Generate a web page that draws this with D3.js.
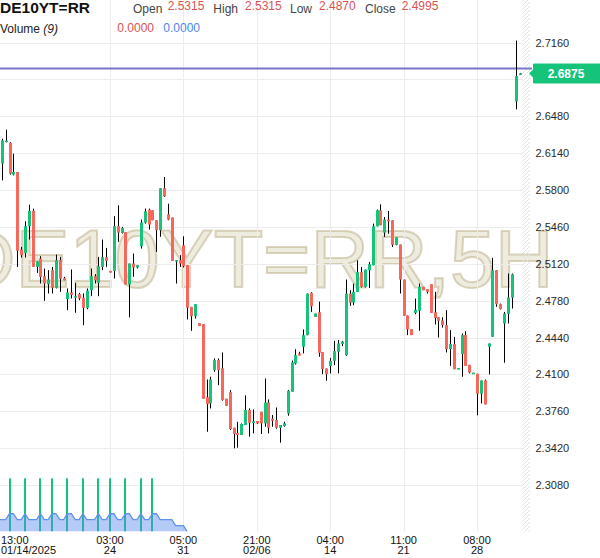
<!DOCTYPE html>
<html><head><meta charset="utf-8">
<script src="https://cdn.jsdelivr.net/npm/d3@7"></script>
<style>
body{margin:0;background:#fff;}
svg{display:block;font-family:Arial,"Liberation Sans",Helvetica,sans-serif;}
</style>
</head><body>
<svg id="chart" width="600" height="558"></svg>
<script>
const symbol = "DE10YT=RR";
const watermark = "DE10YT=RR,5H";
const headerLabels = ["Open", "High", "Low", "Close"];
const headerValues = ["2.5315", "2.5315", "2.4870", "2.4995"];
const volumeValues = ["0.0000", "0.0000"];

const opens = [2.6043,2.6246,2.6236,2.5942,2.5966,2.5251,2.5220,2.5466,2.5607,2.5091,
2.5168,2.5005,2.4932,2.5061,2.4898,2.5153,2.4987,2.4794,2.4855,2.4812,
2.4840,2.4806,2.4714,2.4876,2.5005,2.4944,2.5091,2.5180,2.5054,2.5054,
2.5466,2.5404,2.5411,2.4929,2.5122,2.5085,2.5282,2.5500,2.5619,2.5613,
2.5521,2.5429,2.5816,2.5576,2.5546,2.5143,2.5153,2.5290,2.5106,2.4722,
2.4636,2.4572,2.4563,2.3890,2.3832,2.4139,2.4231,2.4157,2.3875,2.3936,
2.3608,2.3559,2.3541,2.3633,2.3771,2.3651,2.3670,2.3755,2.3648,2.3841,
2.3691,2.3679,2.3608,2.3623,2.3740,2.3940,2.4200,2.4293,2.4354,2.4461,
2.4851,2.4630,2.4673,2.4305,2.4154,2.4176,2.4225,2.4308,2.4379,2.4277,
2.4845,2.4762,2.4861,2.5042,2.4907,2.5060,2.5106,2.5465,2.5613,2.5407,
2.5527,2.5521,2.5294,2.5297,2.4974,2.4643,2.4517,2.4667,2.4686,2.4907,
2.4885,2.4931,2.4673,2.4627,2.4597,2.4554,2.4333,2.4379,2.4148,2.4287,
2.4462,2.4188,2.4106,2.4106,2.3921,2.4044,2.4354,2.4446,2.5060,2.4747,
2.4569,2.4658,2.4808,2.6617,2.6860];

const highs = [2.6273,2.6356,2.6242,2.6135,2.5966,2.5276,2.5512,2.5665,2.5628,2.5143,
2.5190,2.5076,2.5061,2.5091,2.5205,2.5183,2.4999,2.4892,2.5067,2.4944,
2.4852,2.4846,2.4892,2.5076,2.5024,2.5183,2.5343,2.5266,2.5054,2.5558,
2.5659,2.5460,2.5411,2.5122,2.5214,2.5107,2.5527,2.5628,2.5628,2.5613,
2.5521,2.5816,2.5920,2.5674,2.5546,2.5153,2.5199,2.5373,2.5106,2.4722,
2.4747,2.4572,2.4563,2.4053,2.4078,2.4247,2.4247,2.4302,2.3875,2.3955,
2.3608,2.3663,2.3648,2.3906,2.3786,2.3777,2.3670,2.3755,2.4062,2.3869,
2.3725,2.3795,2.3633,2.3663,2.3955,2.4228,2.4332,2.4308,2.4514,2.4845,
2.4857,2.4661,2.4771,2.4305,2.4154,2.4253,2.4409,2.4416,2.4409,2.4974,
2.4876,2.4937,2.5152,2.5091,2.5066,2.5137,2.5490,2.5619,2.5668,2.5551,
2.5607,2.5521,2.5364,2.5297,2.4974,2.4643,2.4517,2.4799,2.4937,2.4907,
2.4885,2.4931,2.4861,2.4627,2.4627,2.4692,2.4508,2.4446,2.4158,2.4477,
2.4498,2.4188,2.4115,2.4106,2.4044,2.4053,2.4385,2.5174,2.5060,2.4753,
2.4676,2.5030,2.5030,2.7178,2.6878];

const lows = [2.5889,2.6239,2.5942,2.5935,2.5091,2.5177,2.5177,2.5343,2.5091,2.5036,
2.4938,2.4778,2.4846,2.4846,2.4892,2.4861,2.4968,2.4692,2.4800,2.4668,
2.4784,2.4554,2.4701,2.4821,2.4938,2.4821,2.5061,2.5091,2.5039,2.4984,
2.5322,2.5398,2.4929,2.4625,2.4999,2.5076,2.5260,2.5490,2.5435,2.5521,
2.5229,2.5368,2.5736,2.5521,2.5147,2.4938,2.5091,2.5085,2.4606,2.4501,
2.4615,2.4547,2.3875,2.3571,2.3786,2.4124,2.4001,2.3857,2.3808,2.3587,
2.3418,2.3424,2.3541,2.3633,2.3525,2.3556,2.3642,2.3550,2.3617,2.3556,
2.3617,2.3599,2.3470,2.3617,2.3719,2.3940,2.4191,2.4274,2.4293,2.4461,
2.4676,2.4630,2.4262,2.4102,2.4041,2.4108,2.4185,2.4109,2.4360,2.4271,
2.4732,2.4738,2.4861,2.4901,2.4901,2.4897,2.5106,2.5465,2.5475,2.5367,
2.5398,2.5275,2.5290,2.4845,2.4640,2.4462,2.4462,2.4655,2.4501,2.4876,
2.4845,2.4667,2.4560,2.4440,2.4532,2.4302,2.4179,2.4148,2.4148,2.4078,
2.4179,2.4109,2.4106,2.3722,2.3832,2.3823,2.4099,2.4446,2.4723,2.4698,
2.4207,2.4569,2.4707,2.6543,2.6860];

const closes = [2.6258,2.6255,2.5951,2.5966,2.5239,2.5199,2.5466,2.5607,2.5091,2.5143,
2.4999,2.4938,2.4975,2.4898,2.5153,2.4981,2.4968,2.4855,2.4833,2.4821,
2.4800,2.4714,2.4873,2.5005,2.4968,2.5097,2.5180,2.5147,2.5039,2.5466,
2.5407,2.5450,2.4929,2.5122,2.5085,2.5107,2.5500,2.5604,2.5481,2.5521,
2.5429,2.5816,2.5742,2.5527,2.5147,2.5153,2.5122,2.5097,2.4716,2.4636,
2.4747,2.4547,2.3875,2.3826,2.4053,2.4231,2.4139,2.3863,2.3811,2.3596,
2.3550,2.3541,2.3642,2.3771,2.3654,2.3666,2.3648,2.3648,2.3841,2.3608,
2.3673,2.3608,2.3633,2.3648,2.3949,2.4210,2.4277,2.4274,2.4461,2.4845,
2.4728,2.4661,2.4299,2.4148,2.4102,2.4225,2.4314,2.4385,2.4403,2.4845,
2.4762,2.4861,2.5042,2.4907,2.5066,2.5115,2.5465,2.5613,2.5475,2.5527,
2.5512,2.5294,2.5364,2.4974,2.4640,2.4514,2.4462,2.4695,2.4907,2.4876,
2.4861,2.4667,2.4621,2.4594,2.4554,2.4333,2.4379,2.4148,2.4158,2.4462,
2.4179,2.4118,2.4115,2.3921,2.4044,2.3823,2.4385,2.5060,2.4747,2.4701,
2.4661,2.4808,2.5023,2.6850,2.6875];

// volume of the 9 bars before the first visible bar, then the visible bars
const volumePrior = [0,0,0,0,1,0,0,1,0];
const volumes = [0,0,1,0,0,0,1,0,0,0, 1,0,0,1,0,0,0,1,0,0, 0,1,0,0,0,1,0,0,1,0,
0,0,1,0,0,0,1,0,0,1, 0,0,0,0,0,0,0,0,0,0, 0,0,0,0,0,0,0,0,0,0,
0,0,0,0,0,0,0,0,0,0, 0,0,0,0,0,0,0,0,0,0, 0,0,0,0,0,0,0,0,0,0,
0,0,0,0,0,0,0,0,0,0, 0,0,0,0,0,0,0,0,0,0, 0,0,0,0,0,0,0,0,0,0,
0,0,0,0,0,0,0,0,0,0, 0,0,0,0,0];
const maPeriod = 9;

const priceTicks = [2.7160,2.6820,2.6480,2.6140,2.5800,2.5460,2.5120,2.4780,2.4440,2.4100,2.3760,2.3420,2.3080];
const tickIndex = [0, 28, 47, 66, 85, 104, 123];
const tickTime = ["13:00","03:00","05:00","21:00","04:00","11:00","08:00"];
const tickDate = ["01/14/2025","24","31","02/06","14","21","28"];
const refLine = 2.692;

const UP = "#16c37b", DOWN = "#f8675c";
const N = opens.length;
const svg = d3.select("#chart");
const plotRight = 523, plotBottom = 531.5;

const x = d3.scaleLinear().domain([0, N - 1]).range([1.8, 519.5]);
const y = d3.scaleLinear().domain([2.308, 2.716]).range([485, 42.5]);
const yVol = d3.scaleLinear().domain([0, 1]).range([plotBottom, 478.3]);

const defs = svg.append("defs");
defs.append("clipPath").attr("id", "plotclip").append("rect")
  .attr("x", 0).attr("y", 0).attr("width", plotRight).attr("height", plotBottom);
const pat = defs.append("pattern").attr("id", "hatch").attr("patternUnits", "userSpaceOnUse")
  .attr("width", 4).attr("height", 4);
pat.append("path").attr("d", "M-1,1 l2,-2 M0,4 l4,-4 M3,5 l2,-2")
  .attr("stroke", "#e2e2e2").attr("stroke-width", 1);

// watermark
svg.append("text").attr("x", -43).attr("y", 287)
  .attr("font-size", 81).attr("font-family", "Arial, 'Liberation Sans', sans-serif")
  .attr("fill", "rgba(200,188,150,0.3)").attr("stroke", "rgba(185,172,130,0.5)")
  .attr("stroke-width", 2).text(watermark);

// gridlines
const grid = svg.append("g");
grid.selectAll("line.h").data(priceTicks).join("line").attr("class", "h")
  .attr("x1", 0).attr("x2", plotRight)
  .attr("y1", d => Math.round(y(d)) + 0.5).attr("y2", d => Math.round(y(d)) + 0.5)
  .attr("stroke", "#ececec");
grid.selectAll("line.v").data(tickIndex.slice(1)).join("line").attr("class", "v")
  .attr("x1", d => Math.round(x(d)) + 0.5).attr("x2", d => Math.round(x(d)) + 0.5)
  .attr("y1", 0).attr("y2", plotBottom).attr("stroke", "#ececec");

// hatched strip on the right edge
svg.append("rect").attr("x", 522.5).attr("y", 0).attr("width", 7.5).attr("height", plotBottom)
  .attr("fill", "url(#hatch)");

const plot = svg.append("g").attr("clip-path", "url(#plotclip)");

// volume bars
plot.selectAll("rect.vol").data(volumes.map((v, i) => ({v, i})).filter(d => d.v > 0))
  .join("rect").attr("class", "vol")
  .attr("x", d => Math.round(x(d.i)) - 1).attr("width", 2)
  .attr("y", d => yVol(d.v)).attr("height", d => yVol(0) - yVol(d.v))
  .attr("fill", UP);

// volume moving average
const volAll = volumePrior.concat(volumes);
const P = volumePrior.length;
const maPts = [];
let lastSpike = -1;
volumes.forEach((v, i) => { if (v > 0) lastSpike = i; });
for (let j = -1; j <= Math.min(N - 1, lastSpike + maPeriod); j++) {
  const w = volAll.slice(P + j - maPeriod + 1, P + j + 1);
  maPts.push({j, v: d3.sum(w) / maPeriod});
}
plot.append("path").datum(maPts)
  .attr("d", d3.area().x(d => x(d.j)).y0(yVol(0)).y1(d => yVol(d.v)))
  .attr("fill", "rgba(88,138,238,0.45)");
plot.append("path").datum(maPts)
  .attr("d", d3.line().x(d => x(d.j)).y(d => yVol(d.v)))
  .attr("fill", "none").attr("stroke", "#5f92ec").attr("stroke-width", 1.3);

// reference line
plot.append("line").attr("x1", 0).attr("x2", 531)
  .attr("y1", y(refLine)).attr("y2", y(refLine))
  .attr("stroke", "#7777c9").attr("stroke-width", 2);
svg.append("line").attr("x1", plotRight).attr("x2", 532)
  .attr("y1", y(refLine)).attr("y2", y(refLine))
  .attr("stroke", "#7777c9").attr("stroke-width", 2);

// candles
const candles = d3.range(N).map(i => ({i, o: opens[i], h: highs[i], l: lows[i], c: closes[i]}));
const cg = plot.selectAll("g.candle").data(candles).join("g").attr("class", "candle");
cg.append("line")
  .attr("x1", d => Math.round(x(d.i)) + 0.5).attr("x2", d => Math.round(x(d.i)) + 0.5)
  .attr("y1", d => y(d.h)).attr("y2", d => y(d.l))
  .attr("stroke", "#000").attr("stroke-width", 1);
cg.append("rect")
  .attr("x", d => Math.round(x(d.i)) - 1).attr("width", 3)
  .attr("y", d => y(Math.max(d.o, d.c)))
  .attr("height", d => Math.max(1.5, Math.abs(y(d.o) - y(d.c))))
  .attr("fill", d => d.c >= d.o ? UP : DOWN);

// right price axis
const yAxis = d3.axisRight(y).tickValues(priceTicks).tickSize(0).tickPadding(5.5)
  .tickFormat(d3.format(".4f"));
const ya = svg.append("g").attr("transform", "translate(530,0)").call(yAxis);
ya.select(".domain").remove();
ya.selectAll("text").attr("font-size", 11).attr("fill", "#2a2a2a")
  .attr("font-family", "Arial, 'Liberation Sans', sans-serif");

// bottom time labels
const xl = svg.append("g").attr("font-size", 11).attr("fill", "#111");
tickIndex.forEach((ti, k) => {
  const cx = x(ti);
  const first = k === 0;
  [tickTime[k], tickDate[k]].forEach((t, r) => {
    xl.append("text").attr("x", first ? 1 : cx).attr("y", r === 0 ? 544 : 553.5)
      .attr("text-anchor", first ? "start" : "middle").text(t);
  });
});

// last price label
const lastY = y(closes[N - 1]);
svg.append("path")
  .attr("d", `M529,${lastY} L533,${lastY - 4} L533,${lastY - 9} Q533,${lastY - 10} 534,${lastY - 10} L600,${lastY - 10} L600,${lastY + 10} L534,${lastY + 10} Q533,${lastY + 10} 533,${lastY + 9} L533,${lastY + 4} Z`)
  .attr("fill", UP);
svg.append("text").attr("x", 566).attr("y", lastY + 4.3).attr("text-anchor", "middle")
  .attr("font-size", 12).attr("font-weight", "bold").attr("fill", "#fff")
  .text(d3.format(".4f")(closes[N - 1]));

// header
const hd = svg.append("g");
hd.append("text").attr("x", 0).attr("y", 12.7).attr("font-size", 15.5).attr("font-weight", "bold")
  .attr("fill", "#111").text(symbol);
const labelX = [133, 213.3, 290, 365];
const valueX = [167.7, 245, 319, 401.7];
headerLabels.forEach((l, k) => {
  hd.append("text").attr("x", labelX[k]).attr("y", 12.5).attr("font-size", 12).attr("fill", "#444").text(l);
  hd.append("text").attr("x", valueX[k]).attr("y", 10.3).attr("font-size", 12).attr("fill", "#d9534f").text(headerValues[k]);
});
const vt = hd.append("text").attr("x", 0).attr("y", 33.3).attr("font-size", 12).attr("fill", "#222");
vt.append("tspan").text("Volume ");
vt.append("tspan").attr("font-style", "italic").text("(9)");
hd.append("text").attr("x", 117.3).attr("y", 31.7).attr("font-size", 12).attr("fill", "#d9534f").text(volumeValues[0]);
hd.append("text").attr("x", 163.3).attr("y", 31.7).attr("font-size", 12).attr("fill", "#4a86e8").text(volumeValues[1]);
</script>
</body></html>
